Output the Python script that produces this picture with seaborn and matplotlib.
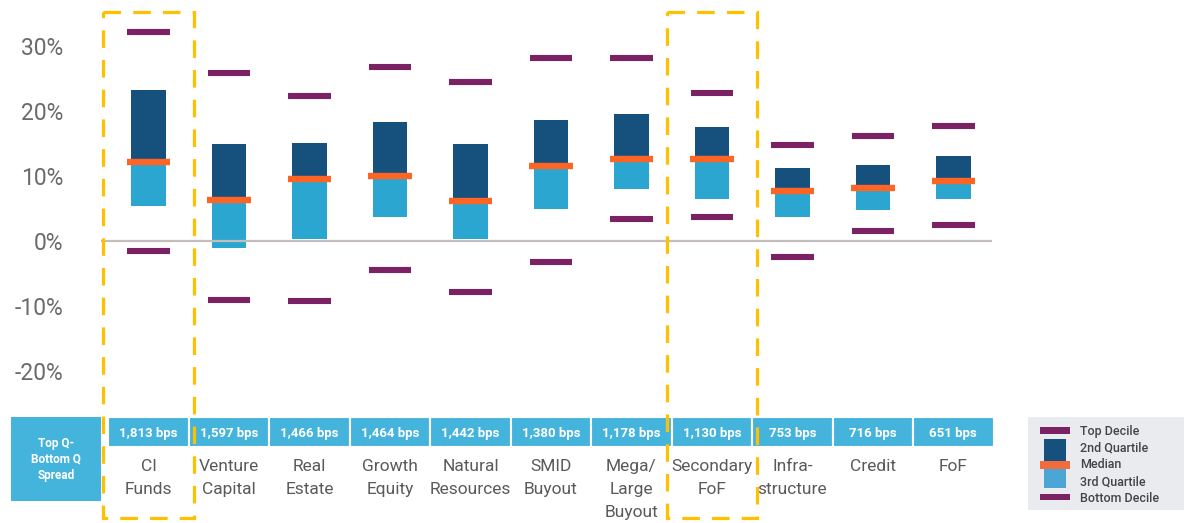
import numpy as np
import pandas as pd
import matplotlib
matplotlib.use("Agg")
import matplotlib.pyplot as plt
import matplotlib.transforms as mtransforms
from matplotlib.patches import Rectangle
from matplotlib.ticker import FuncFormatter
import seaborn as sns

# Data (returns in %)
categories = ["CI Funds", "Venture Capital", "Real Estate", "Growth Equity",
              "Natural Resources", "SMID Buyout", "Mega/Large Buyout",
              "Secondary FoF", "Infrastructure", "Credit", "FoF"]
cat_labels = ["CI\nFunds", "Venture\nCapital", "Real\nEstate", "Growth\nEquity",
              "Natural\nResources", "SMID\nBuyout", "Mega/\nLarge\nBuyout",
              "Secondary\nFoF", "Infra-\nstructure", "Credit", "FoF"]
top_decile = [32.1, 25.9, 22.4, 26.8, 24.5, 28.1, 28.1, 22.8, 14.8, 16.2, 17.7]
top_quartile = [23.3, 14.9, 15.1, 18.3, 14.9, 18.6, 19.6, 17.5, 11.3, 11.7, 13.1]
median = [12.2, 6.3, 9.5, 10.0, 6.2, 11.6, 12.7, 12.6, 7.7, 8.2, 9.3]
bottom_quartile = [5.4, -1.0, 0.3, 3.7, 0.3, 5.0, 8.0, 6.4, 3.7, 4.8, 6.4]
bottom_decile = [-1.6, -9.0, -9.2, -4.5, -7.9, -3.2, 3.4, 3.7, -2.4, 1.6, 2.4]
spread_labels = ["1,813 bps", "1,597 bps", "1,466 bps", "1,464 bps", "1,442 bps",
                 "1,380 bps", "1,178 bps", "1,130 bps", "753 bps", "716 bps", "651 bps"]
highlight = ["CI Funds", "Secondary FoF"]
yticks = [-20, -10, 0, 10, 20, 30]

DARK = "#16507d"
LIGHT = "#2ba6d1"
ORANGE = "#fe6424"
PURPLE = "#7a2263"
CELL = "#45b4dc"
GOLD = "#ffc000"

sns.set_theme(style="white")
plt.rcParams["font.family"] = ["Roboto", "DejaVu Sans"]

W, H = 1184, 523
fig = plt.figure(figsize=(W / 100, H / 100), dpi=100)
# main plot area: pixels x 101..992, y 0..410 (from top)
ax = fig.add_axes([101 / W, (H - 410) / H, (992 - 101) / W, 410 / H])

df = pd.DataFrame({"cat": categories,
                   "q3": bottom_quartile, "med": median, "q2": top_quartile})
lower_h = df["med"] - df["q3"]
upper_h = df["q2"] - df["med"]

sns.barplot(x=df["cat"], y=lower_h, order=categories, bottom=df["q3"].values,
            color=LIGHT, saturation=1, width=0.43, errorbar=None,
            linewidth=0, ax=ax)
sns.barplot(x=df["cat"], y=upper_h, order=categories, bottom=df["med"].values,
            color=DARK, saturation=1, width=0.43, errorbar=None,
            linewidth=0, ax=ax)

pos = np.arange(len(categories))
ax.axhline(0, color="#c3bebb", lw=1.6, zorder=1)
ax.hlines(top_decile, pos - 0.265, pos + 0.265, color=PURPLE, lw=4.4, zorder=3)
ax.hlines(bottom_decile, pos - 0.265, pos + 0.265, color=PURPLE, lw=4.4, zorder=3)
ax.hlines(median, pos - 0.27, pos + 0.27, color=ORANGE, lw=4.6, zorder=4)

ax.set_xlim(-0.59, 10.48)
ax.set_ylim(-26.0, 37.1)
ax.set_yticks(yticks)
ax.yaxis.set_major_formatter(FuncFormatter(lambda v, _: f"{v:.0f}%"))
ax.tick_params(axis="y", length=0, pad=27, labelsize=16.5, labelcolor="#6a6a6a")
ax.set_xticks(pos)
ax.set_xticklabels(cat_labels, fontsize=12.5, color="#5a5a5a", linespacing=1.7)
ax.tick_params(axis="x", length=0, pad=35)
ax.set_xlabel("")
ax.set_ylabel("")
for s in ax.spines.values():
    s.set_visible(False)
ax.grid(False)

# overlay in pixel coordinates
over = fig.add_axes([0, 0, 1, 1])
over.set_xlim(0, W)
over.set_ylim(H, 0)
over.axis("off")
over.patch.set_visible(False)
bt = mtransforms.blended_transform_factory(ax.transData, over.transData)

# spread row
over.add_patch(Rectangle((11, 417), 90, 84, facecolor=CELL, edgecolor="none"))
over.text(56, 459, "Top Q-\nBottom Q\nSpread", color="white", fontsize=8.5,
          fontweight="bold", ha="center", va="center", linespacing=1.3)
for i, lab in enumerate(spread_labels):
    over.add_patch(Rectangle((i - 0.5, 417), 1, 30, transform=bt,
                             facecolor=CELL, edgecolor="white", lw=1.5))
    over.text(i, 433, lab, transform=bt, color="white", fontsize=9.5,
              fontweight="bold", ha="center", va="center")

# highlight boxes
for name in highlight:
    i = categories.index(name)
    over.add_patch(Rectangle((i - 0.56, 12), 1.12, 506, transform=bt, fill=False,
                             edgecolor=GOLD, lw=2.3, linestyle=(0, (5.5, 3.8)),
                             zorder=10))

# legend
over.add_patch(Rectangle((1028, 417), 160, 93, facecolor="#e9ebef", edgecolor="none"))
over.add_patch(Rectangle((1040, 427), 30, 7, facecolor=PURPLE, edgecolor="none"))
over.add_patch(Rectangle((1044, 439), 22, 22, facecolor=DARK, edgecolor="none"))
over.add_patch(Rectangle((1044, 469), 22, 19, facecolor="#4ba6d6", edgecolor="none"))
over.add_patch(Rectangle((1040, 461), 30, 8, facecolor="#f26b3a", edgecolor="none"))
over.add_patch(Rectangle((1040, 494), 30, 6, facecolor=PURPLE, edgecolor="none"))
for ty, txt in zip([431, 448, 464, 482, 498],
                   ["Top Decile", "2nd Quartile", "Median", "3rd Quartile", "Bottom Decile"]):
    over.text(1080, ty, txt, fontsize=9, color="#444444", fontweight="medium",
              ha="left", va="center")

fig.savefig("out.png", dpi=100)
